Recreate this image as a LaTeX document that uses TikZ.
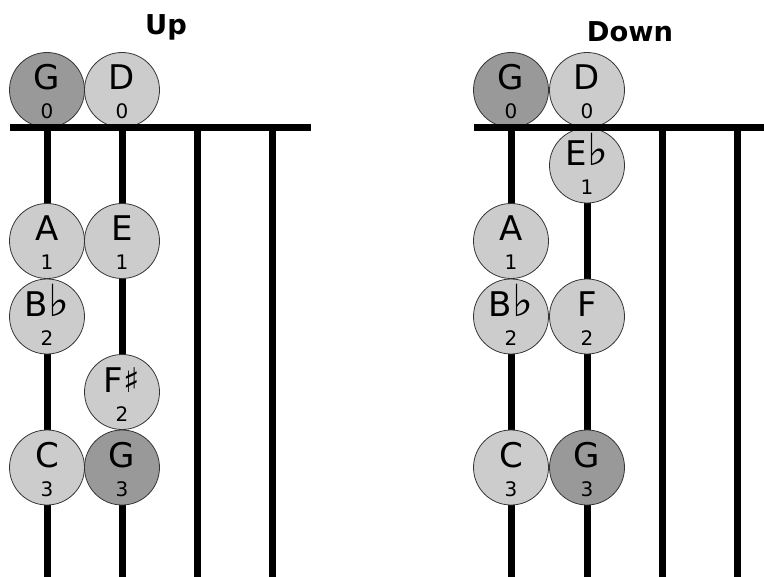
\documentclass[tikz,border=0pt]{standalone}
\usepackage{fontspec}
\setmainfont{DejaVu Sans}
\newcommand\myflat{\scalebox{1.3}{♭}}
\newcommand\fnote[6]{%
  \node[#6] (#1) at (#2,#3) {};
  \node[letter] (#1-l) at (#1.center) {#4};
  \node[fingernum] (#1-n) at ([yshift=-21.75pt]#1.center) {#5};
}
\begin{document}
\begin{tikzpicture}[x=0.75pt,y=-0.75pt,
  fbstring/.style={line width=5.25pt},
  notecircle/.style={circle,draw=black!80,line width=0.6pt,minimum size=56.25pt,inner sep=0pt},
  light/.style={notecircle,fill=black!20},
  dark/.style={notecircle,fill=black!40},
  letter/.style={anchor=base,font=\fontsize{25.5}{26}\selectfont,inner sep=0pt},
  fingernum/.style={anchor=base,font=\fontsize{15}{16}\selectfont,inner sep=0pt},
  title/.style={anchor=base,font=\fontsize{20.5}{22}\selectfont\bfseries,inner sep=0pt}]
\useasboundingbox (0,0) rectangle (764,577);

% titles
\node[title] (tup) at (166,35) {Up};
\node[title] (tdown) at (630,42) {Down};

% ---------- Up ----------
\foreach \i/\x in {1/47,2/122,3/197,4/272}{
  \coordinate (u\i t) at (\x,128);
  \coordinate (u\i b) at (\x,577);
  \draw[fbstring] (u\i t) -- (u\i b);
}
\fnote{uG0}{47}{90}{G}{0}{dark}
\fnote{uD0}{122}{90}{D}{0}{light}
\fnote{uA1}{47}{241}{A}{1}{light}
\fnote{uE1}{122}{241}{E}{1}{light}
\fnote{uB2}{47}{316.5}{B\myflat}{2}{light}
\fnote{uF2}{122}{392}{F♯}{2}{light}
\fnote{uC3}{47}{467.5}{C}{3}{light}
\fnote{uG3}{122}{467.5}{G}{3}{dark}
\coordinate (unl) at (10,128);
\coordinate (unr) at (311,128);
\draw[fbstring] (unl) -- (unr);

% ---------- Down ----------
\foreach \i/\x in {1/511,2/587,3/662,4/737}{
  \coordinate (d\i t) at (\x,128);
  \coordinate (d\i b) at (\x,577);
  \draw[fbstring] (d\i t) -- (d\i b);
}
\fnote{dG0}{511}{90}{G}{0}{dark}
\fnote{dD0}{587}{90}{D}{0}{light}
\fnote{dE1}{587}{165.5}{E\myflat}{1}{light}
\fnote{dA1}{511}{241}{A}{1}{light}
\fnote{dB2}{511}{316.5}{B\myflat}{2}{light}
\fnote{dF2}{587}{316.5}{F}{2}{light}
\fnote{dC3}{511}{467.5}{C}{3}{light}
\fnote{dG3}{587}{467.5}{G}{3}{dark}
\coordinate (dnl) at (474,128);
\coordinate (dnr) at (764,128);
\draw[fbstring] (dnl) -- (dnr);
\end{tikzpicture}
\end{document}
